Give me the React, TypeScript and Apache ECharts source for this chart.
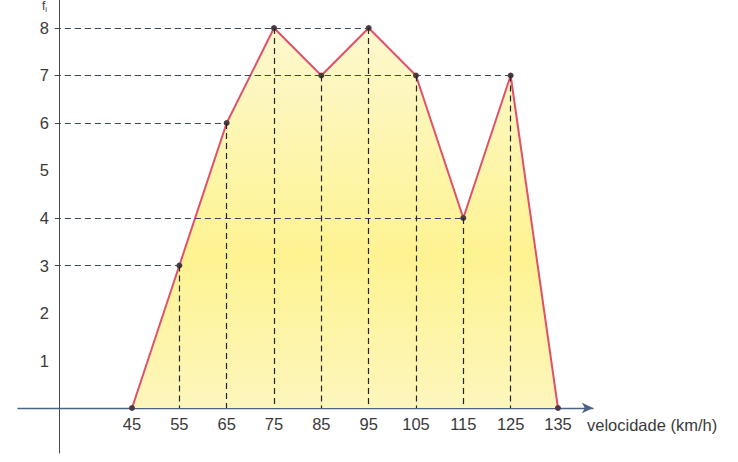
import React, { useEffect, useRef } from "react";
import * as echarts from "echarts";

const speeds = [45, 55, 65, 75, 85, 95, 105, 115, 125, 135];
const freqs = [0, 3, 6, 8, 7, 8, 7, 4, 7, 0];
const yTicks = [1, 2, 3, 4, 5, 6, 7, 8];
const xAxisName = "velocidade (km/h)";
const yAxisName = "f";
const yAxisSub = "i";

const Y_AXIS_AT = 29.6; // x value where the vertical axis stands
const FONT = "'Liberation Sans', Arial, Helvetica, sans-serif";

export default function App() {
  const ref = useRef<HTMLDivElement>(null);
  useEffect(() => {
    if (!ref.current) return;
    const chart = echarts.init(ref.current, null, { renderer: "svg" });
    const pts = speeds.map((s, i) => [s, freqs[i]]);
    const hLines = pts
      .filter((p) => p[1] > 0)
      .map((p) => [{ coord: [Y_AXIS_AT - 0.9, p[1]] }, { coord: [p[0], p[1]] }]);
    const vLines = pts
      .filter((p) => p[1] > 0)
      .map((p) => [{ coord: [p[0], p[1]] }, { coord: [p[0], 0] }]);

    chart.setOption({
      animation: false,
      backgroundColor: "#ffffff",
      grid: {
        left: 18,
        right: 145,
        top: 0,
        bottom: 9,
        containLabel: false,
        outerBoundsMode: "none",
      },
      xAxis: {
        type: "value",
        min: 20.91,
        max: 142.4,
        offset: -45,
        splitLine: { show: false },
        axisLine: {
          show: true,
          onZero: false,
          symbol: ["none", "arrow"],
          symbolSize: [8, 11],
          lineStyle: { color: "#4b6384", width: 1.3 },
        },
        axisTick: { show: false },
        axisLabel: {
          customValues: speeds,
          color: "#3a3a3a",
          fontSize: 16.5,
          fontFamily: FONT,
          margin: 7,
        },
        name: xAxisName,
        nameLocation: "end",
        nameGap: -6,
        nameTextStyle: {
          color: "#3a3a3a",
          fontSize: 16.5,
          fontFamily: FONT,
          align: "left",
          verticalAlign: "top",
          padding: [8, 0, 0, 0],
        },
      },
      yAxis: {
        type: "value",
        min: -0.947,
        max: 8.589,
        offset: -41,
        splitLine: { show: false },
        axisLine: { show: true, onZero: false, lineStyle: { color: "#4a4a4a", width: 1 } },
        axisTick: { show: false },
        axisLabel: {
          customValues: yTicks,
          color: "#3a3a3a",
          fontSize: 16.5,
          fontFamily: FONT,
          margin: 10,
        },
      },
      graphic: [
        {
          type: "text",
          left: 42,
          top: 0,
          style: {
            text: `{a|${yAxisName}}{b|${yAxisSub}}`,
            rich: {
              a: { fontSize: 12, fontFamily: FONT, fill: "#3a3a3a" },
              b: { fontSize: 8, fontFamily: FONT, fill: "#3a3a3a", padding: [6, 0, 0, 0] },
            },
          },
        },
      ],
      series: [
        {
          type: "line",
          z: 1,
          data: pts,
          symbol: "none",
          lineStyle: { width: 0 },
          areaStyle: {
            opacity: 1,
            color: {
              type: "linear",
              x: 0,
              y: 0,
              x2: 0,
              y2: 1,
              colorStops: [
                { offset: 0, color: "#fdf8cf" },
                { offset: 0.6, color: "#fef391" },
                { offset: 1, color: "#fdf6bc" },
              ],
            },
          },
          silent: true,
        },
        {
          type: "line",
          z: 2,
          data: [],
          silent: true,
          markLine: {
            silent: true,
            symbol: ["none", "none"],
            label: { show: false },
            animation: false,
            data: [
              ...hLines.map((d) => [
                { ...d[0], lineStyle: { color: "#3b4658", type: [6, 4], width: 1.2 } },
                d[1],
              ]),
              ...vLines.map((d) => [
                { ...d[0], lineStyle: { color: "#252525", type: [6, 4], width: 1.2 } },
                d[1],
              ]),
            ],
          },
        },
        {
          type: "line",
          z: 3,
          data: pts,
          symbol: "circle",
          symbolSize: 6,
          showSymbol: true,
          itemStyle: { color: "#4d3a3e", borderWidth: 0 },
          lineStyle: { color: "#e0506a", width: 2 },
          silent: true,
        },
      ],
    });
    return () => chart.dispose();
  }, []);
  return (
    <div
      ref={ref}
      style={{ position: "absolute", left: 0, top: 0, width: 738, height: 462, background: "#fff" }}
    />
  );
}
